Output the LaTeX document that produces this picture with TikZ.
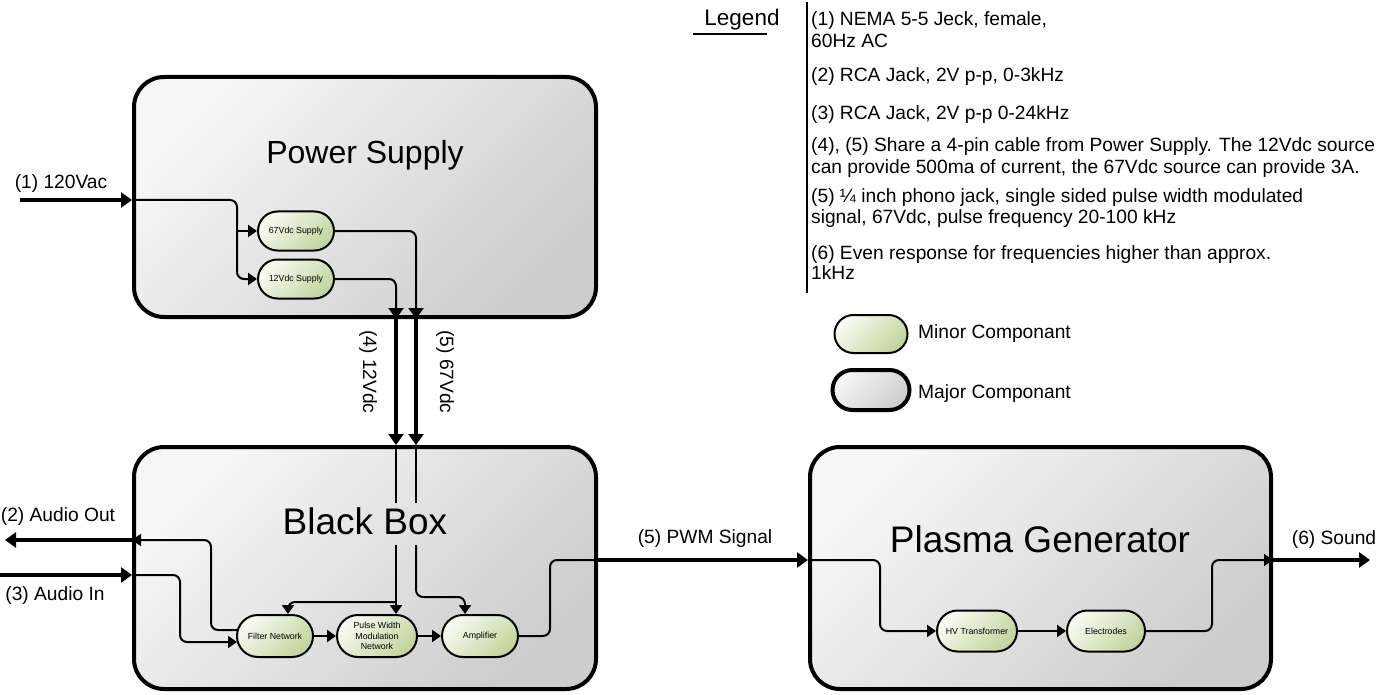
\documentclass[tikz,border=0pt]{standalone}
\usepackage{fontspec}
\setmainfont{Liberation Sans}
\usetikzlibrary{arrows.meta,shapes.misc,calc}
\definecolor{majlight}{HTML}{F6F6F6}
\definecolor{majdark}{HTML}{CDCDCD}
\definecolor{minlight}{HTML}{F8FAF2}
\definecolor{mindark}{HTML}{C2D59E}
\begin{document}
\begin{tikzpicture}[x=1pt,y=-1pt,
  major/.style={draw, line width=4pt, rectangle, rounded corners=30pt,
    top color=majlight, bottom color=majdark, shading angle=45,
    minimum width=462pt, minimum height=242pt},
  minor/.style={draw, line width=2pt, rounded rectangle, inner sep=0pt,
    top color=minlight, bottom color=mindark, shading angle=45,
    font=\fontsize{8.8}{10.3}\selectfont, align=center},
  title/.style={inner sep=0pt},
  lab/.style={font=\fontsize{19.2}{22}\selectfont, inner sep=0pt},
  wire/.style={line width=2pt, rounded corners=7pt},
  cable/.style={line width=4pt},
  arr/.style={-{Triangle[length=9pt,width=12pt]}},
  bigarr/.style={-{Triangle[length=11pt,width=15pt]}}
]
\useasboundingbox (0,0) rectangle (1381,695);

% major components
\node[major] (ps) at (365,197) [minimum height=240pt] {};
\node[major] (bb) at (365,568) {};
\node[major] (pg) at (1040.5,568) [minimum width=461pt] {};
\node[title, font=\fontsize{32}{36}\selectfont] (pst) at (365,155) {Power Supply};
\node[title, font=\fontsize{37}{40}\selectfont] (bbt) at (365,521) {Black Box};
\node[title, font=\fontsize{37}{40}\selectfont] (pgt) at (1040,539) {Plasma Generator};

% minor components
\node[minor, minimum width=76pt, minimum height=39pt] (v67) at (296,231) {67Vdc Supply};
\node[minor, minimum width=76pt, minimum height=39pt] (v12) at (296,279) {12Vdc Supply};
\node[minor, minimum width=76pt, minimum height=42pt] (fn) at (275,636) {Filter Network};
\node[minor, minimum width=80pt, minimum height=42pt] (pwm) at (377,636) {Pulse Width\\Modulation\\Network};
\node[minor, minimum width=76pt, minimum height=42pt] (amp) at (480,636) {Amplifier};
\node[minor, minimum width=80pt, minimum height=41pt] (hv) at (977,631) {HV Transformer};
\node[minor, minimum width=78pt, minimum height=41pt] (el) at (1106,631) {Electrodes};

% helper coordinates
\coordinate (x12) at (396,0);
\coordinate (x67) at (416,0);
\coordinate (g1) at (0,503);
\coordinate (g2) at (0,545);
\coordinate (in1) at (20,200);
\coordinate (aoy) at (0,540);
\coordinate (aoend) at (5,540);
\coordinate (aiy) at (0,575);
\coordinate (pwmy) at (0,560);
\coordinate (sndend) at (1370,560);
\coordinate (b12) at (396,602);
\coordinate (fnx) at (288,0);
\coordinate (b67) at (416,597);
\coordinate (ax) at (465,0);

% (1) input
\draw[cable, bigarr] (in1) -- (in1 -| ps.west);
\node[lab] (l1) at (61,184) {(1) 120Vac};
\draw[wire, arr] (in1 -| ps.west) -- (237,200) -- (237,279) -- (v12.west);
\draw[wire, arr] (237,231) -- (v67.west);

% power supply outputs
\draw[wire, bigarr] (v67.east) -- (x67 |- v67.east) -- (x67 |- ps.south);
\draw[wire, bigarr] (v12.east) -- (x12 |- v12.east) -- (x12 |- ps.south);
\draw[cable, bigarr] (x12 |- ps.south) -- (x12 |- bb.north);
\draw[cable, bigarr] (x67 |- ps.south) -- (x67 |- bb.north);
\node[lab, rotate=-90] (l4) at (368,372) {(4) 12Vdc};
\node[lab, rotate=-90] (l5) at (445,372) {(5) 67Vdc};

% black box internals
\draw[wire] (x12 |- bb.north) -- (x12 |- g1);
\draw[wire] (x67 |- bb.north) -- (x67 |- g1);
\draw[wire, arr] (x12 |- g2) -- (x12 |- pwm.north);
\draw[wire, arr] (b12) -- (b12 -| fnx) -- (fn.north -| fnx);
\draw[wire, arr] (x67 |- g2) -- (b67) -- (b67 -| ax) -- (amp.north -| ax);
\draw[wire, arr] (fn.east) -- (pwm.west);
\draw[wire, arr] (pwm.east) -- (amp.west);

% audio out / in
\draw[wire, arr] ($(fn.west)+(1,-6)$) -- (211,630) -- (211,540) -- (aoy -| bb.west);
\draw[cable, bigarr] (aoy -| bb.west) -- (aoend);
\node[lab] (l2) at (58,517) {(2) Audio Out};
\draw[cable, bigarr] (aiy) -- (aiy -| bb.west);
\draw[wire, arr] (aiy -| bb.west) -- (180,575) -- (180,642) -- ($(fn.west)+(1,6)$);
\node[lab] (l3) at (55,596) {(3) Audio In};

% PWM signal
\draw[wire] (amp.east) -- (550,636) -- (550,560) -- (pwmy -| bb.east);
\draw[cable, bigarr] (pwmy -| bb.east) -- (pwmy -| pg.west);
\node[lab] (lpwm) at (705,539) {(5) PWM Signal};

% plasma generator internals
\draw[wire, arr] (pwmy -| pg.west) -- (880,560) -- (880,631) -- (hv.west);
\draw[wire, arr] (hv.east) -- (el.west);
\draw[wire, arr] (el.east) -- (1212,631) -- (1212,560) -- (pwmy -| pg.east);
\draw[cable, bigarr] (pwmy -| pg.east) -- (sndend);
\node[lab] (l6) at (1334,540) {(6) Sound};

% legend
\node[inner sep=0pt, font=\fontsize{22.5}{26}\selectfont] (legt) at (742,20) {Legend};
\coordinate (ul1) at (693,34);
\coordinate (ul2) at (767,34);
\draw[line width=2pt] (ul1) -- (ul2);
\coordinate (vl1) at (807,2);
\coordinate (vl2) at (807,293);
\draw[line width=2.5pt] (vl1) -- (vl2);
\begin{scope}[every node/.style={lab, anchor=base west}]
\node (t1a) at (811,26) {(1) NEMA 5-5 Jeck, female,};
\node (t1b) at (811,48) {60Hz AC};
\node (t2) at (811,82) {(2) RCA Jack, 2V p-p, 0-3kHz};
\node (t3) at (811,120) {(3) RCA Jack, 2V p-p 0-24kHz};
\node (t4a) at (811,152) {(4), (5) Share a 4-pin cable from Power Supply. The 12Vdc source};
\node (t4b) at (811,174) {can provide 500ma of current, the 67Vdc source can provide 3A.};
\node (t5a) at (811,203) {(5) ¼ inch phono jack, single sided pulse width modulated};
\node (t5b) at (811,224) {signal, 67Vdc, pulse frequency 20-100 kHz};
\node (t6a) at (811,259) {(6) Even response for frequencies higher than approx.};
\node (t6b) at (811,279) {1kHz};
\end{scope}
\node[minor, minimum width=73pt, minimum height=38pt] (lminor) at (871,334) {};
\node[draw, line width=4pt, rounded rectangle, inner sep=0pt, top color=majlight, bottom color=majdark, shading angle=45, minimum width=77pt, minimum height=40pt] (lmajor) at (871,390) {};
\node[lab, anchor=west] (lmin) at (918,334) {Minor Componant};
\node[lab, anchor=west] (lmaj) at (918,394) {Major Componant};
\end{tikzpicture}
\end{document}
